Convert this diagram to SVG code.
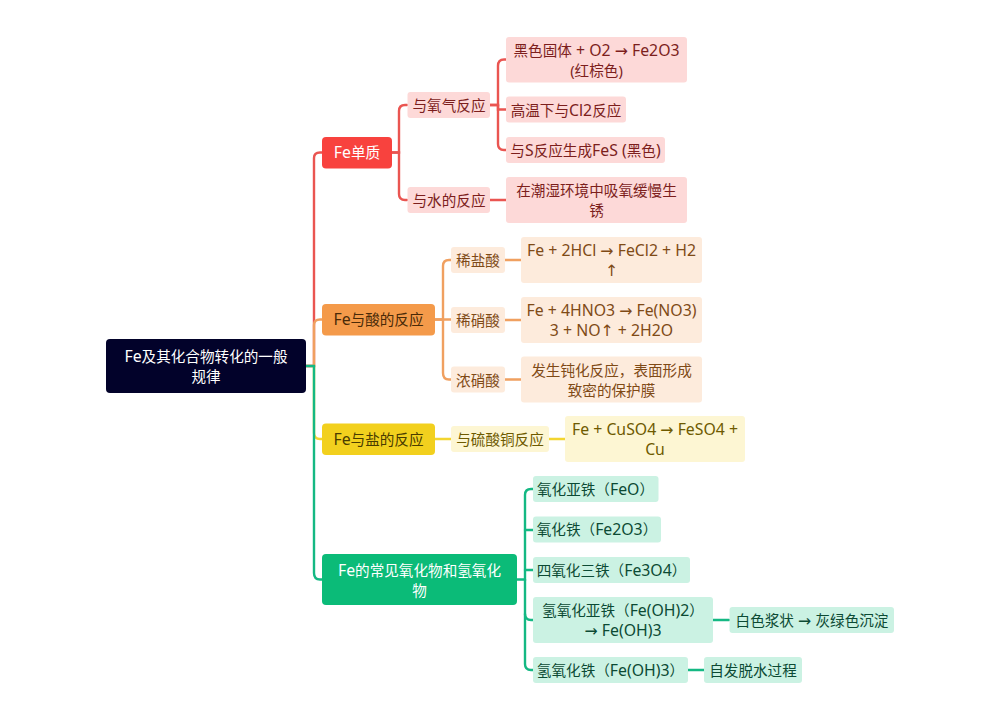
<svg xmlns="http://www.w3.org/2000/svg" width="1000" height="720" viewBox="0 0 1000 720">
<style>
text{font-family:"Noto Sans","Liberation Sans","Noto Sans CJK SC",sans-serif;font-size:14.6px;text-anchor:middle;transform:translateY(.8px)}
.l{font-size:15.8px}
.a{font-size:15.8px;font-family:"DejaVu Sans",sans-serif}
.c{fill:none;stroke-width:2.4;stroke-linecap:round}
.r{stroke:#ea5551}.o{stroke:#f0a060}.y{stroke:#f3d530}.g{stroke:#14b883}
.r1{fill:#fdd9d8}.r1t{fill:#7c1e1c}
.o1{fill:#fdebdc}.o1t{fill:#7f4a16}
.y1{fill:#fdf6d3}.y1t{fill:#6e5a00}
.g1{fill:#cbf2e3}.g1t{fill:#0c4a34}
</style>
<rect width="1000" height="720" fill="#fff"/>
<g id="connectors">
<path class="c r" d="M306 366H314V158Q314 152.500 320 152.500H322"/>
<path class="c o" d="M306 366H314V325Q314 319.500 320 319.500H322"/>
<path class="c y" d="M314 366V433Q314 439 320 439H322"/>
<path class="c g" d="M306 366H314V573Q314 579.500 320 579.500H322"/>
<path class="c r" d="M392 152.500H399V111Q399 105 405 105H407"/>
<path class="c r" d="M392 152.500H399V194Q399 200 405 200H407"/>
<path class="c r" d="M490 105H498V66Q498 59.500 504 59.500H506"/>
<path class="c r" d="M490 105H498V109.500H506"/>
<path class="c r" d="M498 105V144Q498 150 504 150H506"/>
<path class="c r" d="M490 200H506"/>
<path class="c o" d="M435 319.500H443V266Q443 260 449 260H451"/>
<path class="c o" d="M435 319.500H451"/>
<path class="c o" d="M443 319.500V373Q443 379.500 449 379.500H451"/>
<path class="c o" d="M505 260H521"/>
<path class="c o" d="M505 320H521"/>
<path class="c o" d="M505 379.500H521"/>
<path class="c y" d="M435 439H451"/>
<path class="c y" d="M549 439H565"/>
<path class="c g" d="M517 579.500H525V495Q525 489 531 489H533"/>
<path class="c g" d="M525 530H533"/>
<path class="c g" d="M525 570H533"/>
<path class="c g" d="M525 579.500V614Q525 620 531 620H533"/>
<path class="c g" d="M525 614V664Q525 670 531 670H533"/>
<path class="c g" d="M713 620H729"/>
<path class="c g" d="M688 670H704"/>
</g>
<g id="root"><rect x="106" y="339" width="200" height="54" rx="4" fill="#02022a"/><text x="206" y="361" fill="#fff"><tspan class="l">Fe</tspan>及其化合物转化的一般</text><text x="206" y="381" fill="#fff">规律</text></g>
<g id="n1"><rect x="322" y="137" width="70" height="31.500" rx="4" fill="#f8423e"/><text x="357" y="157.500" fill="#fff"><tspan class="l">Fe</tspan>单质</text></g>
<g id="n1a"><rect class="r1" x="407.500" y="92" width="82.500" height="26" rx="3"/><text class="r1t" x="449" y="110">与氧气反应</text></g>
<g id="n1a1"><rect class="r1" x="506" y="37" width="181" height="45.500" rx="3"/><text class="r1t" x="596.500" y="55">黑色固体<tspan class="l"> + O2 </tspan><tspan class="a">→</tspan><tspan class="l"> Fe2O3</tspan></text><text class="r1t" x="596.500" y="75">(红棕色)</text></g>
<g id="n1a2"><rect class="r1" x="506" y="96.500" width="120" height="26" rx="3"/><text class="r1t" x="566" y="115">高温下与<tspan class="l">Cl2</tspan>反应</text></g>
<g id="n1a3"><rect class="r1" x="506" y="137" width="159" height="26" rx="3"/><text class="r1t" x="585.500" y="155">与<tspan class="l">S</tspan>反应生成<tspan class="l">FeS (</tspan>黑色<tspan class="l">)</tspan></text></g>
<g id="n1b"><rect class="r1" x="407.500" y="187" width="82.500" height="26" rx="3"/><text class="r1t" x="449" y="205">与水的反应</text></g>
<g id="n1b1"><rect class="r1" x="506" y="177" width="181" height="46" rx="3"/><text class="r1t" x="596.500" y="195">在潮湿环境中吸氧缓慢生</text><text class="r1t" x="596.500" y="215">锈</text></g>
<g id="n2"><rect x="322" y="304" width="113" height="31.500" rx="4" fill="#f49a4a"/><text x="378.500" y="324.500" fill="#4a2a08"><tspan class="l">Fe</tspan>与酸的反应</text></g>
<g id="n2a"><rect class="o1" x="451" y="247" width="54" height="26" rx="3"/><text class="o1t" x="478" y="265">稀盐酸</text></g>
<g id="n2a1"><rect class="o1" x="521" y="237" width="181" height="46" rx="3"/><text class="o1t l" x="611.500" y="255">Fe + 2HCl <tspan class="a">→</tspan> FeCl2 + H2</text><text class="o1t a" x="611.500" y="275">↑</text></g>
<g id="n2b"><rect class="o1" x="451" y="307" width="54" height="26" rx="3"/><text class="o1t" x="478" y="325">稀硝酸</text></g>
<g id="n2b1"><rect class="o1" x="521" y="297" width="181" height="46" rx="3"/><text class="o1t l" x="611.500" y="315">Fe + 4HNO3 <tspan class="a">→</tspan> Fe(NO3)</text><text class="o1t l" x="611.500" y="335">3 + NO<tspan class="a">↑</tspan> + 2H2O</text></g>
<g id="n2c"><rect class="o1" x="451" y="366.500" width="54" height="26" rx="3"/><text class="o1t" x="478" y="385">浓硝酸</text></g>
<g id="n2c1"><rect class="o1" x="521" y="356.500" width="181" height="46" rx="3"/><text class="o1t" x="611.500" y="375">发生钝化反应，表面形成</text><text class="o1t" x="611.500" y="395">致密的保护膜</text></g>
<g id="n3"><rect x="322" y="423.500" width="113" height="31.500" rx="4" fill="#f2d01e"/><text x="378.500" y="444" fill="#4a3c00"><tspan class="l">Fe</tspan>与盐的反应</text></g>
<g id="n3a"><rect class="y1" x="451" y="426" width="98" height="26" rx="3"/><text class="y1t" x="500" y="444">与硫酸铜反应</text></g>
<g id="n3a1"><rect class="y1" x="565" y="416" width="180" height="46" rx="3"/><text class="y1t l" x="655" y="434">Fe + CuSO4 <tspan class="a">→</tspan> FeSO4 +</text><text class="y1t l" x="655" y="454">Cu</text></g>
<g id="n4"><rect x="322" y="554" width="195" height="51" rx="4" fill="#0bbb78"/><text x="419.500" y="575" fill="#fff"><tspan class="l">Fe</tspan>的常见氧化物和氢氧化</text><text x="419.500" y="595" fill="#fff">物</text></g>
<g id="n4a"><rect class="g1" x="533" y="476" width="125.500" height="26" rx="3"/><text class="g1t" x="595.500" y="494">氧化亚铁（<tspan class="l">FeO</tspan>）</text></g>
<g id="n4b"><rect class="g1" x="533" y="516.500" width="128" height="26" rx="3"/><text class="g1t" x="597" y="534">氧化铁（<tspan class="l">Fe2O3</tspan>）</text></g>
<g id="n4c"><rect class="g1" x="533" y="557" width="157" height="26" rx="3"/><text class="g1t" x="611.500" y="575">四氧化三铁（<tspan class="l">Fe3O4</tspan>）</text></g>
<g id="n4d"><rect class="g1" x="533" y="597" width="180" height="46" rx="3"/><text class="g1t" x="623" y="615">氢氧化亚铁（<tspan class="l">Fe(OH)2</tspan>）</text><text class="g1t l" x="623" y="635"><tspan class="a">→</tspan> Fe(OH)3</text></g>
<g id="n4d1"><rect class="g1" x="729.500" y="607" width="164.500" height="26" rx="3"/><text class="g1t" x="812" y="625">白色浆状<tspan class="l"> </tspan><tspan class="a">→</tspan><tspan class="l"> </tspan>灰绿色沉淀</text></g>
<g id="n4e"><rect class="g1" x="533" y="657" width="155" height="26" rx="3"/><text class="g1t" x="610.500" y="675">氢氧化铁（<tspan class="l">Fe(OH)3</tspan>）</text></g>
<g id="n4e1"><rect class="g1" x="704" y="657" width="98" height="26" rx="3"/><text class="g1t" x="753" y="675">自发脱水过程</text></g>
</svg>
